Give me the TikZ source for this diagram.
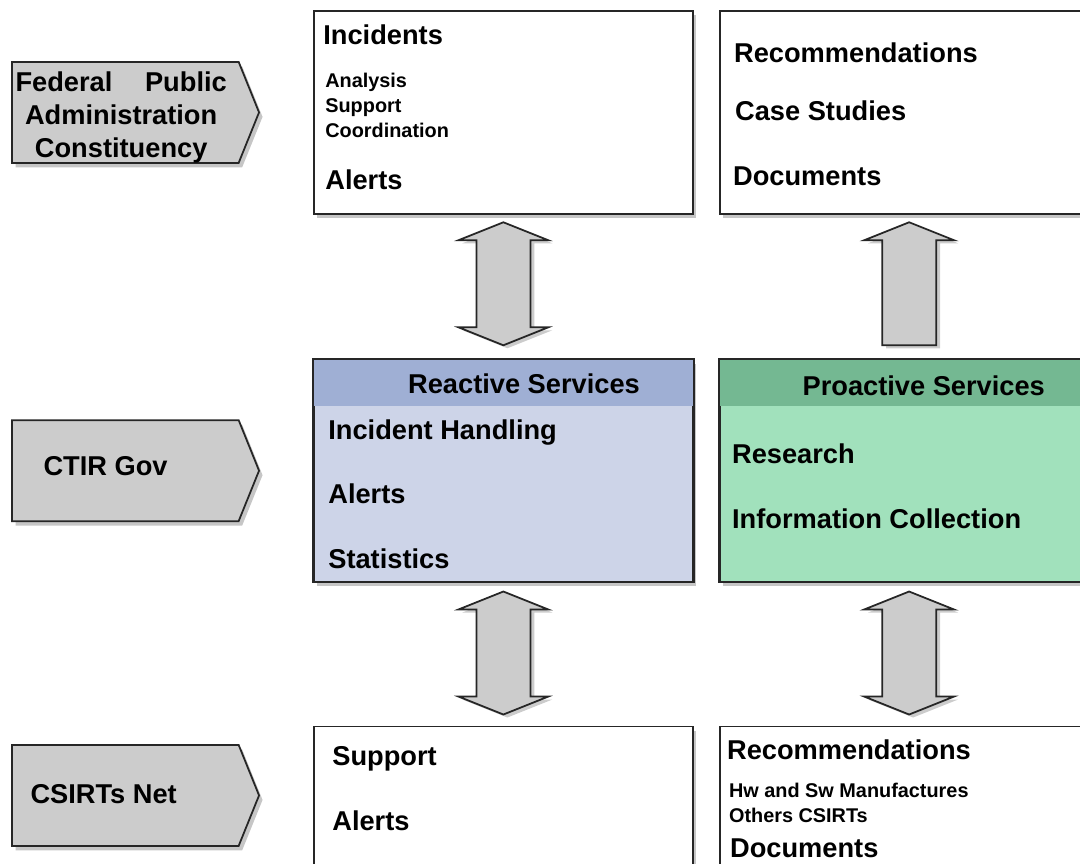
\documentclass[tikz,border=0pt]{standalone}
\usepackage{fontspec}
\setmainfont{Liberation Sans}
\usepackage{xcolor}
\usepackage{tikz}
\usetikzlibrary{shapes.geometric, shapes.symbols, shadows, positioning, calc}

\definecolor{laneGray}{HTML}{CCCCCC}
\definecolor{reactHead}{HTML}{9FAFD4}
\definecolor{reactBody}{HTML}{CDD4E8}
\definecolor{proHead}{HTML}{74B892}
\definecolor{proBody}{HTML}{A1E1BC}

\tikzset{
    blockarrow/.style={draw=black!85, line width=1pt, fill=laneGray, line join=miter,
        drop shadow={shadow xshift=0.08cm, shadow yshift=-0.06cm, opacity=0.4}},
    twoway/.pic={
        \path[blockarrow] (0,1.23) -- (-0.9,0.87) -- (-0.54,0.87) -- (-0.54,-0.87) -- (-0.9,-0.87)
            -- (0,-1.23) -- (0.9,-0.87) -- (0.54,-0.87) -- (0.54,0.87) -- (0.9,0.87) -- cycle;
    },
    oneway/.pic={
        \path[blockarrow] (0,1.23) -- (-0.9,0.87) -- (-0.54,0.87) -- (-0.54,-1.23)
            -- (0.54,-1.23) -- (0.54,0.87) -- (0.9,0.87) -- cycle;
    }
}

\begin{document}
\begin{tikzpicture}[
    node distance=0.5cm,
    box/.style={rectangle, draw=black!85, line width=1pt, fill=white, minimum width=7.58cm, inner sep=0pt,
        drop shadow={shadow xshift=0.07cm, shadow yshift=-0.09cm, opacity=0.45}},
    lane/.style={signal, signal to=east, signal pointer angle=136, draw=black!85, line width=1pt, fill=laneGray,
        minimum width=4.94cm, minimum height=2.02cm, inner sep=0pt,
        drop shadow={shadow xshift=0.07cm, shadow yshift=-0.09cm, opacity=0.45}},
    big/.style={font=\fontsize{15.5}{18.7}\selectfont\bfseries, inner sep=0pt, anchor=west, text height=1.82ex, text depth=0pt},
    small/.style={font=\fontsize{11.3}{14}\selectfont\bfseries, inner sep=0pt, anchor=west, text height=1.6ex, text depth=0pt}
]
    \clip (0,0) rectangle (21.6,-17.26);

    % service boxes
    \node[box, minimum height=4.06cm, anchor=north west] (incidents) at (6.26,-0.2) {};
    \node[box, minimum height=4.06cm, right=of incidents] (docs) {};
    \node[box, minimum height=4.44cm, fill=reactBody, below=2.88cm of incidents] (reactive) {};
    \node[box, minimum height=4.44cm, fill=proBody, right=of reactive] (proactive) {};
    \node[box, minimum height=2.76cm, below=2.86cm of reactive] (support) {};
    \node[box, minimum height=2.76cm, right=of support] (recomm) {};

    % header bands
    \fill[reactHead] (reactive.north west) rectangle ($(reactive.north east)+(0,-0.94)$);
    \fill[proHead] (proactive.north west) rectangle ($(proactive.north east)+(0,-0.94)$);
    \draw[draw=black!85, line width=1pt] (reactive.north west) rectangle (reactive.south east);
    \draw[draw=black!85, line width=1pt] (proactive.north west) rectangle (proactive.south east);

    % constituencies
    \node[lane, left=1.06cm of incidents] (federal) {};
    \node[lane, left=1.06cm of reactive] (ctir) {};
    \node[lane, left=1.06cm of support] (csirts) {};

    \node[font=\fontsize{15.5}{18.7}\selectfont\bfseries, inner sep=0pt, align=center] (federalText)
        at ([xshift=2.2cm, yshift=-0.1cm]federal.west) {Federal\hspace{1.2em}Public\\Administration\\Constituency};
    \node[big] (ctirText) at ([xshift=0.64cm, yshift=0.08cm]ctir.west) {CTIR Gov};
    \node[big] (csirtsText) at ([xshift=0.38cm]csirts.west) {CSIRTs Net};

    % block arrows
    \pic (arrowA) at ($(incidents.south)!0.5!(reactive.north)+(0,0.06)$) {twoway};
    \pic (arrowB) at ($(docs.south)!0.5!(proactive.north)+(0,0.06)$) {oneway};
    \pic (arrowC) at ($(reactive.south)!0.5!(support.north)+(0,0.02)$) {twoway};
    \pic (arrowD) at ($(proactive.south)!0.5!(recomm.north)+(0,0.02)$) {twoway};

    % texts in the boxes
    \node[big] (incT) at ([shift={(0.2,-0.52)}]incidents.north west) {Incidents};
    \node[small] (anaT) at ([shift={(0.24,-1.4)}]incidents.north west) {Analysis};
    \node[small] (supT) at ([shift={(0.24,-1.9)}]incidents.north west) {Support};
    \node[small] (coT) at ([shift={(0.24,-2.4)}]incidents.north west) {Coordination};
    \node[big] (alT) at ([shift={(0.24,-3.42)}]incidents.north west) {Alerts};

    \node[big] (recT) at ([shift={(0.3,-0.88)}]docs.north west) {Recommendations};
    \node[big] (caseT) at ([shift={(0.32,-2.04)}]docs.north west) {Case Studies};
    \node[big] (docT) at ([shift={(0.28,-3.34)}]docs.north west) {Documents};

    \node[big, anchor=center] (reactT) at ([shift={(4.22,-0.52)}]reactive.north west) {Reactive Services};
    \node[big] (ihT) at ([shift={(0.3,-1.44)}]reactive.north west) {Incident Handling};
    \node[big] (al2T) at ([shift={(0.3,-2.72)}]reactive.north west) {Alerts};
    \node[big] (statT) at ([shift={(0.3,-4.02)}]reactive.north west) {Statistics};

    \node[big, anchor=center] (proT) at ([shift={(4.1,-0.56)}]proactive.north west) {Proactive Services};
    \node[big] (resT) at ([shift={(0.26,-1.92)}]proactive.north west) {Research};
    \node[big] (infoT) at ([shift={(0.26,-3.22)}]proactive.north west) {Information Collection};

    \node[big] (sup2T) at ([shift={(0.38,-0.64)}]support.north west) {Support};
    \node[big] (al3T) at ([shift={(0.38,-1.94)}]support.north west) {Alerts};

    \node[big] (rec2T) at ([shift={(0.16,-0.52)}]recomm.north west) {Recommendations};
    \node[small] (hwT) at ([shift={(0.2,-1.3)}]recomm.north west) {Hw and Sw Manufactures};
    \node[small] (othT) at ([shift={(0.2,-1.8)}]recomm.north west) {Others CSIRTs};
    \node[big] (doc2T) at ([shift={(0.22,-2.48)}]recomm.north west) {Documents};
\end{tikzpicture}
\end{document}
